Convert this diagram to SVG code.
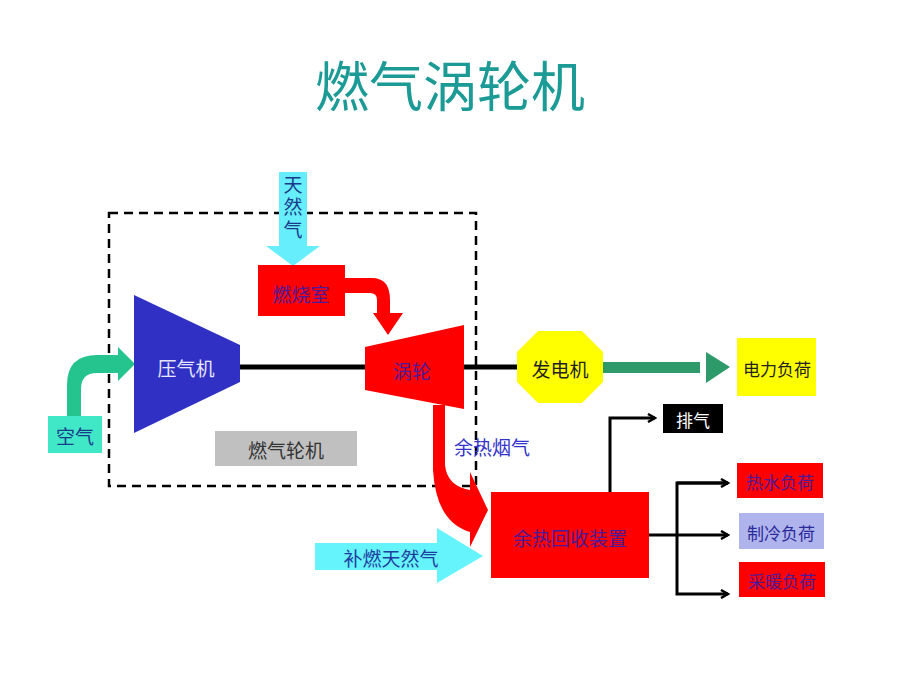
<svg xmlns="http://www.w3.org/2000/svg" width="901" height="675" viewBox="0 0 901 675">
<defs>
<style>
text{font-family:"Noto Sans CJK SC","Noto Sans",sans-serif;text-anchor:middle;dominant-baseline:central}
.lbl{font-size:19px}
.sm{font-size:17px}
.pur{fill:#4b1a9a}
.blk{fill:none;stroke:#000;stroke-width:3}
</style>
<marker id="chev" markerWidth="10" markerHeight="10" refX="8" refY="5" orient="auto" markerUnits="userSpaceOnUse">
<path d="M1,1 L8,5 L1,9" fill="none" stroke="#000" stroke-width="2.5"/>
</marker>
</defs>
<rect width="901" height="675" fill="#fff"/>
<text id="title" x="450" y="83" style="font-size:54px" fill="#1b9a96">燃气涡轮机</text>

<g id="boundary"><rect x="109" y="213" width="367" height="273" fill="none" stroke="#000" stroke-width="2.5" stroke-dasharray="9,6"/></g>

<g id="connectors">
<line x1="240" y1="367" x2="520" y2="367" stroke="#000" stroke-width="5"/>
<path d="M67 416 L67 385 Q67 355 97 355 L118 355 L118 347 L135 364 L118 381 L118 373 L97 373 Q81 373 81 389 L81 416 Z" fill="#25c48e"/>
<path d="M279 172 L307 172 L307 246 L320 246 L293 266 L266 246 L279 246 Z" fill="#66eefc"/>
<path d="M345 278 L372 278 Q390 278 390 300 L390 313 L403 313 L388 335 L373 313 L377 313 L377 300 Q377 293 370 293 L345 293 Z" fill="#f00"/>
<path d="M433 405 L433 470 Q436 522 470 532 L470 547 L488 510 L470 472 L470 490 Q447 486 445 465 L445 405 Z" fill="#f00"/>
<path d="M315 543 L437 543 L437 528 L483 556 L437 583 L437 570 L315 570 Z" fill="#66f4fc"/>
<path d="M603 362 L700 362 L700 373 L603 373 Z" fill="#2e9a6a"/>
<path d="M706 362 L706 352 L730 367 L706 383 L706 373 Z" fill="#2e9a6a"/>
<path d="M610 492 L610 418 L655 418" class="blk" marker-end="url(#chev)"/>
<path d="M649 535 L728 535" class="blk" marker-end="url(#chev)"/>
<path d="M728 483 L677 483 L677 594 L728 594" class="blk" marker-end="url(#chev)"/>
<path d="M677 483 L728 483" class="blk" marker-end="url(#chev)"/>
</g>

<g id="air"><rect x="48" y="416" width="54" height="37" fill="#40e8c8"/><text x="75" y="435" class="lbl" fill="#1a3a8a">空气</text></g>
<g id="natgas"><text x="293" y="175" class="lbl" fill="#1a3a8a" style="writing-mode:vertical-rl;text-anchor:start;letter-spacing:3.5px">天然气</text></g>
<g id="compressor"><polygon points="134,295 240,345 240,382 134,433" fill="#3030c4"/><text x="186" y="367" class="lbl" fill="#e6e6ff">压气机</text></g>
<g id="combustor"><rect x="258" y="265" width="87" height="51" fill="#f00"/><text x="301" y="293" class="lbl pur">燃烧室</text></g>
<g id="turbine"><polygon points="365,347 464,325 464,409 365,390" fill="#f00"/><text x="412" y="370" class="lbl pur">涡轮</text></g>
<g id="gtlabel"><rect x="215" y="431" width="142" height="35" fill="#c0c0c0"/><text x="286" y="449" class="lbl" fill="#333">燃气轮机</text></g>
<g id="generator"><polygon points="538,331 582,331 603,352 603,382 582,403 538,403 517,382 517,352" fill="#ffff00"/><text x="560" y="368" class="lbl" fill="#222">发电机</text></g>
<g id="power"><rect x="737" y="338" width="79" height="58" fill="#ffff00"/><text x="777" y="368" class="sm" fill="#222">电力负荷</text></g>
<g id="exhaust"><rect x="663" y="404" width="60" height="29" fill="#000"/><text x="693" y="419" class="sm" fill="#fff">排气</text></g>
<g id="flue"><text x="492" y="446" class="lbl" fill="#3333cc">余热烟气</text></g>
<g id="suppl"><text x="391" y="557" class="lbl" fill="#1f3ea0">补燃天然气</text></g>
<g id="hrsg"><rect x="491" y="492" width="158" height="86" fill="#f00"/><text x="570" y="537" class="lbl pur">余热回收装置</text></g>
<g id="hotwater"><rect x="737" y="463" width="86" height="35" fill="#f00"/><text x="780" y="481" class="sm pur">热水负荷</text></g>
<g id="cooling"><rect x="739" y="513" width="85" height="36" fill="#b0b4ec"/><text x="781" y="532" class="sm" fill="#2a2a9a">制冷负荷</text></g>
<g id="heating"><rect x="739" y="562" width="86" height="35" fill="#f00"/><text x="782" y="580" class="sm pur">采暖负荷</text></g>
</svg>
